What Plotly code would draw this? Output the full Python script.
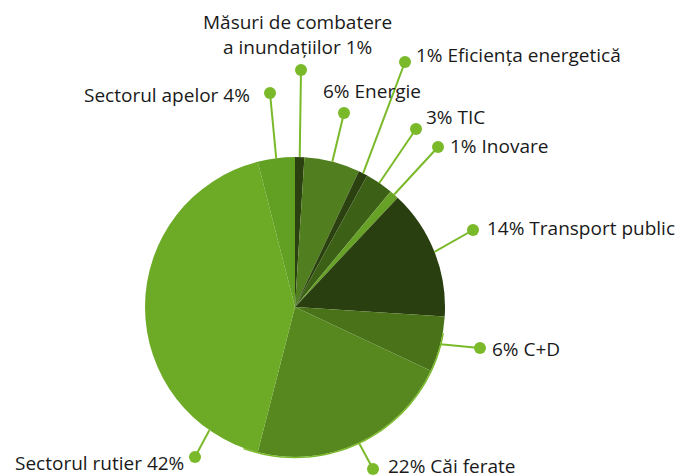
import math
import plotly.graph_objects as go

# ---- data ----
categories = ["Măsuri de combatere a inundațiilor", "Energie", "Eficiența energetică", "TIC",
              "Inovare", "Transport public", "C+D", "Căi ferate", "Sectorul rutier", "Sectorul apelor"]
values = [1, 6, 1, 3, 1, 14, 6, 22, 42, 4]
label_texts = ["Măsuri de combatere<br>a inundațiilor 1%", "6% Energie", "1% Eficiența energetică",
               "3% TIC", "1% Inovare", "14% Transport public", "6% C+D", "22% Căi ferate",
               "Sectorul rutier 42%", "Sectorul apelor 4%"]

# ---- styles / layout ----
colors = ["#2b4210", "#517f1f", "#2b4210", "#3b6016", "#67a126", "#293f10",
          "#4a7319", "#56881f", "#6dab27", "#62a024"]
W, H = 677, 475
CX, CY, R = 295, 307, 150
lead = "#7ab929"
# label layout: (anchor fraction within slice, dot px, text px, xanchor)
label_layout = [
    (0.5, (301, 70), (297, 34), "center"),
    (0.5, (344, 113), (321, 91), "left"),
    (0.5, (405, 62), (414, 55), "left"),
    (0.5, (416, 129), (424, 117), "left"),
    (0.5, (438, 147), (448, 146), "left"),
    (0.5, (473, 230), (485, 228), "left"),
    (0.5, (480, 348), (490, 349), "left"),
    (0.5, (373, 469), (386, 466), "left"),
    (0.135, (195, 457), (186, 463), "right"),
    (0.5, (270, 93), (252, 95), "right"),
]
edge_arc_deg = (100, 200)  # light rim along the lower right edge

def px(x):
    return x / W

def py(y):
    return 1 - y / H

fig = go.Figure(go.Pie(
    labels=categories, values=values, sort=False, direction="clockwise", rotation=0,
    marker=dict(colors=colors, line=dict(width=0)), textinfo="none", hoverinfo="label+percent",
    domain=dict(x=[px(CX - R), px(CX + R)], y=[py(CY + R), py(CY - R)]),
    showlegend=False,
))

total = sum(values)
cum = 0
shapes, annotations = [], []

# rim arc
pts = []
for k in range(41):
    a = math.radians(edge_arc_deg[0] + (edge_arc_deg[1] - edge_arc_deg[0]) * k / 40)
    pts.append((px(CX + (R + 0.5) * math.sin(a)), py(CY - (R + 0.5) * math.cos(a))))
path = "M " + " L ".join(f"{x:.5f},{y:.5f}" for x, y in pts)
shapes.append(dict(type="path", xref="paper", yref="paper", path=path,
                   line=dict(color=lead, width=1.5)))

for v, txt, (frac, dot, tpos, xa) in zip(values, label_texts, label_layout):
    ang = 2 * math.pi * (cum + v * frac) / total
    cum += v
    sx = CX + R * math.sin(ang)
    sy = CY - R * math.cos(ang)
    shapes.append(dict(type="line", xref="paper", yref="paper",
                       x0=px(sx), y0=py(sy), x1=px(dot[0]), y1=py(dot[1]),
                       line=dict(color=lead, width=2)))
    rr = 6
    shapes.append(dict(type="circle", xref="paper", yref="paper",
                       x0=px(dot[0] - rr), x1=px(dot[0] + rr),
                       y0=py(dot[1] + rr), y1=py(dot[1] - rr),
                       fillcolor=lead, line=dict(width=0)))
    annotations.append(dict(text=txt, xref="paper", yref="paper", x=px(tpos[0]), y=py(tpos[1]),
                            xanchor=xa, yanchor="middle", showarrow=False, align="center",
                            font=dict(size=19, color="#1a1a1a", family="Open Sans")))

fig.update_layout(width=W, height=H, margin=dict(l=0, r=0, t=0, b=0),
                  paper_bgcolor="white", plot_bgcolor="white",
                  shapes=shapes, annotations=annotations)
fig.write_html("out.html", config={"displayModeBar": False},
               post_script="document.body.style.margin='0';document.body.style.overflow='hidden';")
